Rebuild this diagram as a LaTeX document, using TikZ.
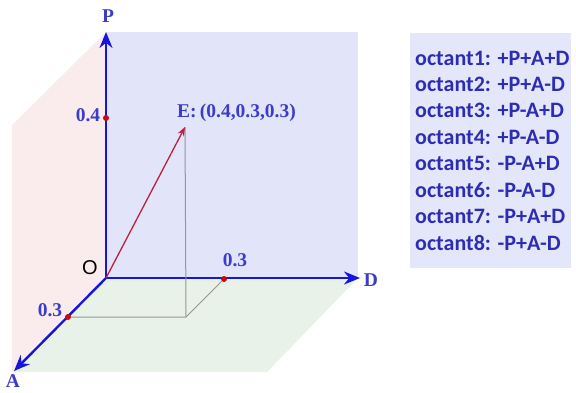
\documentclass[tikz,border=0pt]{standalone}
\usepackage{fontspec}
\setmainfont{Liberation Serif}
\setsansfont{Liberation Sans}
\newfontfamily\octfont{Carlito}
\usetikzlibrary{arrows.meta}
\definecolor{axisblue}{RGB}{22,22,218}
\definecolor{labelblue}{RGB}{60,60,200}
\definecolor{octblue}{RGB}{45,45,178}
\definecolor{dotred}{RGB}{200,10,10}
\definecolor{vecred}{RGB}{185,35,60}
\definecolor{guidegray}{RGB}{150,150,150}
\definecolor{blueplane}{RGB}{226,228,250}
\definecolor{pinkplane}{RGB}{250,236,236}
\definecolor{greenplane}{RGB}{232,242,232}
\definecolor{boxfill}{RGB}{228,230,250}
\begin{document}
\begin{tikzpicture}[x=1pt,y=-1pt,
  axis/.style={line width=2.4pt,draw=axisblue,-{Stealth[length=16pt,width=13pt]}},
  lab/.style={text=labelblue,font=\fontsize{19.5}{19.5}\selectfont\bfseries,inner sep=0pt},
  dot/.style={circle,fill=dotred,inner sep=0pt,minimum size=6pt},
  guide/.style={draw=guidegray,line width=1pt},
  octline/.style={anchor=west,text=octblue,inner sep=0pt,font=\octfont\fontsize{22}{22}\selectfont\bfseries}]
\useasboundingbox (0,0) rectangle (576,392);
% the three planes
\fill[pinkplane] (106,32) -- (12,125) -- (12,372) -- (106,278) -- cycle;
\fill[greenplane] (106,278) -- (358,278) -- (267,372) -- (12,372) -- cycle;
\fill[blueplane] (106,32) rectangle (358,278);
% axes
\coordinate (O) at (106,278);
\coordinate (Pend) at (106,32);
\coordinate (Dend) at (360,278);
\coordinate (Aend) at (14,371);
\draw[axis] (O) -- (Pend);
\draw[axis] (O) -- (Dend);
\draw[axis] (O) -- (Aend);
\node[lab] (Plab) at (108,16) {P};
\node[lab] (Dlab) at (371,280) {D};
\node[lab] (Alab) at (13,381) {A};
\node[font=\sffamily\fontsize{20}{20}\selectfont,inner sep=0pt] (Olab) at (90,268) {O};
% projection of E
\coordinate (E) at (185,127);
\coordinate (foot) at (186,317);
\node[dot] (p4) at (106,118) {};
\node[dot] (d3) at (224,279) {};
\node[dot] (a3) at (68,317) {};
\draw[guide] (a3) -- (foot) -- (d3);
\draw[guide] (foot) -- (E);
\draw[vecred,line width=1.3pt,-{Stealth[length=9pt,width=7pt]}] (O) -- (E);
\node[lab] (p4lab) at (88,115) {0.4};
\node[lab] (d3lab) at (235,260) {0.3};
\node[lab] (a3lab) at (50,310) {0.3};
\node[lab,anchor=west] (Elab) at (177,113) {E:\,(0.4,0.3,0.3)};
% octant list
\fill[boxfill] (410,33) rectangle (571,268);
\foreach \i/\sgn in {1/+P+A+D,2/+P+A-D,3/+P-A+D,4/+P-A-D,5/-P-A+D,6/-P-A-D,7/-P+A+D,8/-P+A-D}{
  \node[octline] (oct\i) at (415,{58+26.4*(\i-1)}) {octant\i: \sgn};
}
\end{tikzpicture}
\end{document}
